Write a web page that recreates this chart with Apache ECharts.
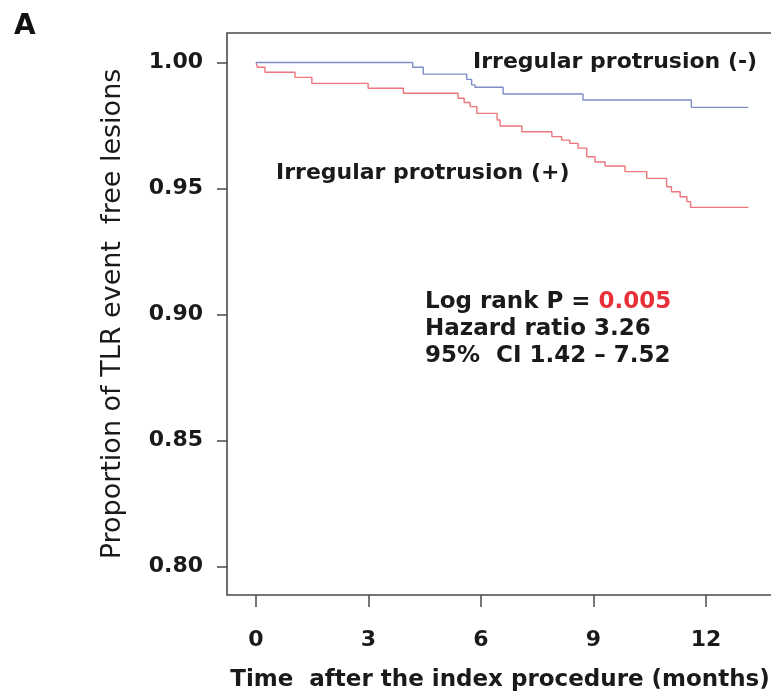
<!DOCTYPE html>
<html>
<head>
<meta charset="utf-8">
<script src="https://cdn.jsdelivr.net/npm/echarts@6/dist/echarts.min.js"></script>
<style>
html,body{margin:0;padding:0;background:#fff;}
#chart{width:771px;height:693px;}
</style>
</head>
<body>
<div id="chart"></div>
<script>
// ---- data ----
const xTicks = [0, 3, 6, 9, 12];
const yTicks = [0.80, 0.85, 0.90, 0.95, 1.00];

// Irregular protrusion (-)  (blue)
const blueTimes = [0, 4.18, 4.46, 5.62, 5.75, 5.84, 6.59, 8.72, 11.61, 13.13];
const blueSurv  = [1.000, 0.9981, 0.9954, 0.9933, 0.9911, 0.9902, 0.9875, 0.9851, 0.9822, 0.9822];

// Irregular protrusion (+)  (red)
const redTimes = [0, 0.04, 0.24, 1.04, 1.49, 2.99, 3.93, 5.39, 5.55, 5.71, 5.89, 6.43, 6.51, 7.09, 7.89, 8.15, 8.37, 8.59, 8.82, 9.04, 9.31, 9.84, 10.42, 10.95, 11.08, 11.31, 11.49, 11.59, 13.13];
const redSurv  = [1.000, 0.9981, 0.9961, 0.9941, 0.9917, 0.9898, 0.9878, 0.9858, 0.9841, 0.9825, 0.9798, 0.9772, 0.9748, 0.9725, 0.9706, 0.9692, 0.9679, 0.9660, 0.9626, 0.9605, 0.9589, 0.9567, 0.9540, 0.9507, 0.9487, 0.9467, 0.9448, 0.9425, 0.9425];

const panelLabel = 'A';
const xTitle = 'Time  after the index procedure (months)';
const yTitle = 'Proportion of TLR event  free lesions';
const labelMinus = 'Irregular protrusion (-)';
const labelPlus = 'Irregular protrusion (+)';
const statP = '0.005';
const statHR = 'Hazard ratio 3.26';
const statCI = '95%  CI 1.42 \u2013 7.52';

const FONT = 'DejaVu Sans, Liberation Sans, Arial, sans-serif';
const TXT = '#1a1a1a';

const pairs = (xs, ys) => xs.map((x, i) => [x, ys[i]]);

const chart = echarts.init(document.getElementById('chart'), null, {renderer: 'canvas'});
chart.setOption({
  animation: false,
  backgroundColor: '#ffffff',
  grid: {
    left: 227, top: 33, bottom: 98, right: -20,
    containLabel: false,
    outerBoundsMode: 'none',
    show: true, borderColor: '#4a4a4a', borderWidth: 1.6, backgroundColor: 'transparent'
  },
  xAxis: {
    type: 'value', min: -0.773, max: 14.267,
    axisLine: {show: false, onZero: false},
    splitLine: {show: false},
    axisTick: {show: true, customValues: xTicks, length: 12, lineStyle: {color: '#4a4a4a', width: 1.5}},
    axisLabel: {customValues: xTicks, margin: 34, fontFamily: FONT, fontWeight: 'bold', fontSize: 22, color: TXT},
    name: xTitle, nameLocation: 'middle', nameGap: 74,
    nameTextStyle: {fontFamily: FONT, fontWeight: 'bold', fontSize: 23, color: TXT, padding: [0, 0, 0, -18]}
  },
  yAxis: {
    type: 'value', min: 0.7887, max: 1.0117,
    axisLine: {show: false, onZero: false},
    splitLine: {show: false},
    axisTick: {show: true, customValues: yTicks, length: 10, lineStyle: {color: '#4a4a4a', width: 1.5}},
    axisLabel: {customValues: yTicks, margin: 24, fontFamily: FONT, fontWeight: 'bold', fontSize: 22, color: TXT,
      formatter: v => Number(v).toFixed(2)},
    name: yTitle, nameLocation: 'middle', nameGap: 101, nameRotate: 90,
    nameTextStyle: {fontFamily: FONT, fontWeight: 'normal', fontSize: 27, color: TXT}
  },
  series: [
    {type: 'line', name: labelMinus, step: 'end', showSymbol: false, symbol: 'none',
     data: pairs(blueTimes, blueSurv), lineStyle: {color: '#7d8ec6', width: 1.4}, z: 3},
    {type: 'line', name: labelPlus, step: 'end', showSymbol: false, symbol: 'none',
     data: pairs(redTimes, redSurv), lineStyle: {color: '#ec767c', width: 1.4}, z: 2}
  ],
  graphic: [
    {type: 'text', x: 14, y: 27, style: {text: panelLabel, font: 'bold 28px ' + FONT, fill: '#111', verticalAlign: 'middle'}},
    {type: 'text', x: 473, y: 62, style: {text: labelMinus, font: 'bold 22px ' + FONT, fill: TXT, verticalAlign: 'middle'}},
    {type: 'text', x: 276, y: 173, style: {text: labelPlus, font: 'bold 22px ' + FONT, fill: TXT, verticalAlign: 'middle'}},
    {type: 'text', x: 425, y: 302, style: {
      text: '{a|Log rank P = }{b|' + statP + '}', verticalAlign: 'middle',
      rich: {
        a: {fontFamily: FONT, fontWeight: 'bold', fontSize: 23, fill: TXT, color: TXT},
        b: {fontFamily: FONT, fontWeight: 'bold', fontSize: 23, fill: '#e8303a', color: '#e8303a'}
      }}},
    {type: 'text', x: 425, y: 329, style: {text: statHR, font: 'bold 23px ' + FONT, fill: TXT, verticalAlign: 'middle'}},
    {type: 'text', x: 425, y: 356, style: {text: statCI, font: 'bold 23px ' + FONT, fill: TXT, verticalAlign: 'middle'}}
  ]
});
</script>
</body>
</html>
